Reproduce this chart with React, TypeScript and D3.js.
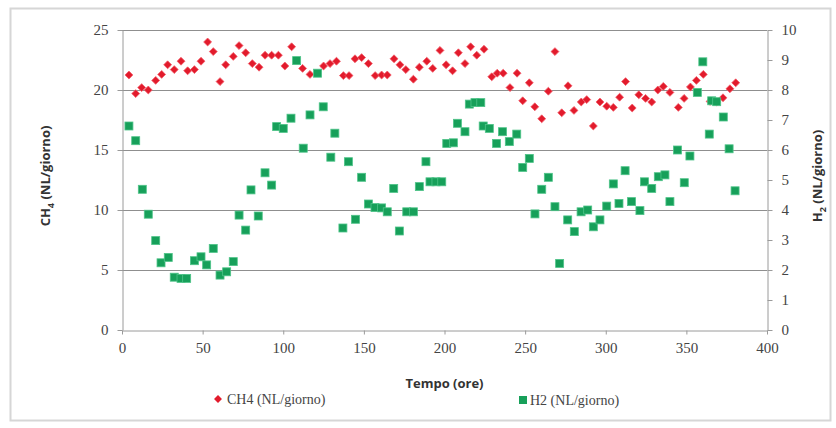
import React, { useRef, useEffect } from 'react';
import * as d3 from 'd3';

// Tempo (ore) and CH4 (NL/giorno)
const ch4Time = [
  4.3, 8.5, 12.2, 16.3, 20.9, 24.6, 28.3, 32.4, 36.6, 40.7, 44.9, 49, 53.1, 56.6, 60.8, 64.3, 69, 72.6, 76.7,
  80.8, 85, 88.7, 92.8, 97, 101, 105.2, 112, 116.6, 125, 129, 133, 137.3, 140.8, 144.5, 148.6, 152.8, 157, 161,
  164.5, 168.7, 172.4, 176, 180.7, 184.4, 189, 192.7, 197.2, 201, 205, 208.6, 212.7, 216.2, 220, 224.5, 229.3,
  232.7, 236.4, 240.6, 245, 248.5, 252.6, 256, 260.3, 264.4, 268.5, 272.7, 276.6, 280.3, 284.8, 288.2, 292.3,
  296.4, 300.6, 304.7, 308.6, 312.3, 316.4, 320.5, 324.7, 328.5, 332.3, 335.7, 339.8, 345, 348.6, 352.5, 356.2,
  360.5, 364.7, 368.8, 372.7, 377, 380.6,
];
const ch4Values = [
  21.25, 19.7, 20.2, 20.0, 20.8, 21.3, 22.1, 21.7, 22.4, 21.6, 21.7, 22.4, 24.0, 23.2, 20.7, 22.1, 22.8, 23.7, 23.1,
  22.2, 21.9, 22.9, 22.9, 22.9, 22.0, 23.6, 21.8, 21.3, 22.0, 22.2, 22.4, 21.2, 21.2, 22.6, 22.7, 22.2, 21.2, 21.25,
  21.25, 22.6, 22.1, 21.7, 20.9, 21.9, 22.4, 21.8, 23.3, 22.1, 21.6, 23.1, 22.2, 23.6, 22.9, 23.4, 21.1,
  21.4, 21.4, 20.2, 21.4, 19.1, 20.6, 18.6, 17.6, 19.9, 23.2, 18.1, 20.35, 18.3, 19.0, 19.2, 17.0,
  19.0, 18.65, 18.55, 19.4, 20.7, 18.5, 19.6, 19.3, 19.0, 20.0, 20.3, 19.8, 18.55, 19.3, 20.25, 20.8,
  21.3, 19.05, 19.0, 19.35, 20.1, 20.6,
];

// Tempo (ore) and H2 (NL/giorno)
const h2Time = [
  4.3, 8.5, 12.6, 16.3, 20.9, 24.2, 28.7, 32.4, 36.6, 40.1, 44.9, 49, 52.5, 56.6, 60.8, 64.9, 69, 72.6, 76.7, 80,
  84.5, 88.7, 92.8, 95.9, 100, 104.8, 108.3, 112.4, 116.6, 121.3, 124.8, 129.5, 132, 137, 140.4, 144.8, 148.6,
  152.8, 156.9, 161, 164.5, 168.5, 172, 176.6, 180.7, 184.4, 188.5, 191, 194.7, 198.3, 201.4, 205.5, 208, 212.7,
  215.4, 218.9, 222.5, 224, 227.8, 232.3, 236, 240.2, 244.8, 248.5, 252.6, 256.1, 260.3, 264.4, 268.5, 271.4,
  276.4, 280.5, 284.7, 288.8, 292.3, 296.4, 300.6, 304.7, 308.2, 312, 316, 321.2, 324, 328.5, 332.6, 336.7,
  339.8, 344.5, 348.7, 352.2, 356.8, 360.2, 364.2, 365.7, 368.8, 372.9, 376.5, 380.2,
];
const h2Values = [
  6.8, 6.31, 4.69, 3.86, 2.98, 2.24, 2.42, 1.76, 1.72, 1.72, 2.31, 2.44, 2.17, 2.72, 1.83, 1.94, 2.28, 3.83, 3.33, 4.67,
  3.8, 5.24, 4.83, 6.78, 6.72, 7.06, 8.98, 6.06, 7.17, 8.56, 7.44, 5.76, 6.56, 3.4, 5.61, 3.69, 5.09,
  4.2, 4.08, 4.07, 3.94, 4.72, 3.3, 3.94, 3.94, 4.78, 5.61, 4.94, 4.94, 4.94, 6.22, 6.24, 6.89, 6.61,
  7.53, 7.58, 7.58, 6.8, 6.72, 6.22, 6.61, 6.28, 6.53, 5.42, 5.72, 3.87, 4.69, 5.09, 4.11, 2.22,
  3.67, 3.28, 3.94, 4.0, 3.44, 3.67, 4.13, 4.87, 4.22, 5.31, 4.28, 3.98, 4.94, 4.72, 5.11, 5.17,
  4.28, 6.0, 4.91, 5.8, 7.92, 8.94, 6.53, 7.64, 7.61, 7.1, 6.04, 4.64,
];

const xTicks = [0, 50, 100, 150, 200, 250, 300, 350, 400];
const leftTicks = [0, 5, 10, 15, 20, 25];
const rightTicks = [0, 1, 2, 3, 4, 5, 6, 7, 8, 9, 10];

const RED = '#e21b2c';
const GREEN = '#17a05a';
const SERIF = '"Liberation Serif", "DejaVu Serif", serif';
const SANS = '"Open Sans", "Liberation Sans", sans-serif';

const App: React.FC = () => {
  const chartRef = useRef<SVGSVGElement | null>(null);

  useEffect(() => {
    if (!chartRef.current) return;
    const W = 836;
    const H = 428;
    const left = 122;
    const right = 767;
    const top = 30;
    const bottom = 330;

    const svg = d3.select(chartRef.current);
    svg.selectAll('*').remove();
    svg.attr('width', W).attr('height', H);

    // outer frame
    svg
      .append('rect')
      .attr('x', 10.5)
      .attr('y', 8.5)
      .attr('width', 820)
      .attr('height', 412)
      .attr('fill', '#fff')
      .attr('stroke', '#d6d6d6')
      .attr('stroke-width', 2);

    const x = d3.scaleLinear().domain([0, 400]).range([left, right]);
    const yL = d3.scaleLinear().domain([0, 25]).range([bottom, top]);
    const yR = d3.scaleLinear().domain([0, 10]).range([bottom, top]);

    // gridlines
    svg
      .append('g')
      .selectAll('line')
      .data(leftTicks.filter((d) => d > 0))
      .enter()
      .append('line')
      .attr('x1', left)
      .attr('x2', right)
      .attr('y1', (d) => Math.round(yL(d)) + 0.5)
      .attr('y2', (d) => Math.round(yL(d)) + 0.5)
      .attr('stroke', '#8f8f8f')
      .attr('stroke-width', 1);

    const styleAxis = (g: d3.Selection<SVGGElement, unknown, null, undefined>) => {
      g.select('.domain').attr('stroke', '#9a9a9a');
      g.selectAll('.tick line').attr('stroke', '#9a9a9a');
      g.selectAll('.tick text')
        .attr('fill', '#444')
        .style('font-family', SERIF)
        .style('font-size', '15px');
    };

    const axisL = svg
      .append('g')
      .attr('transform', `translate(${left + 0.5},0)`)
      .call(d3.axisLeft(yL).tickValues(leftTicks).tickSize(5).tickSizeOuter(0).tickPadding(9));
    styleAxis(axisL);

    const axisR = svg
      .append('g')
      .attr('transform', `translate(${right + 0.5},0)`)
      .call(d3.axisRight(yR).tickValues(rightTicks).tickSize(5).tickSizeOuter(0).tickPadding(9));
    styleAxis(axisR);

    const axisB = svg
      .append('g')
      .attr('transform', `translate(0,${bottom + 0.5})`)
      .call(d3.axisBottom(x).tickValues(xTicks).tickSize(4).tickSizeOuter(0).tickPadding(8));
    styleAxis(axisB);

    // CH4 diamonds
    const diamond = d3.symbol().type(d3.symbolDiamond2).size(40);
    svg
      .append('g')
      .selectAll('path')
      .data(ch4Time.map((t, i) => [t, ch4Values[i]]))
      .enter()
      .append('path')
      .attr('d', diamond as any)
      .attr('transform', (d) => `translate(${x(d[0])},${yL(d[1])})`)
      .attr('fill', RED)
      .attr('stroke', '#f25c6a')
      .attr('stroke-width', 0.8);

    // H2 squares
    const sq = 8;
    svg
      .append('g')
      .selectAll('rect')
      .data(h2Time.map((t, i) => [t, h2Values[i]]))
      .enter()
      .append('rect')
      .attr('x', (d) => x(d[0]) - sq / 2)
      .attr('y', (d) => yR(d[1]) - sq / 2)
      .attr('width', sq)
      .attr('height', sq)
      .attr('fill', GREEN)
      .attr('stroke', '#4fc489')
      .attr('stroke-width', 0.8);

    // axis titles
    const titleL = svg
      .append('text')
      .attr('transform', `translate(50,176) rotate(-90)`)
      .attr('text-anchor', 'middle')
      .style('font-family', SANS)
      .style('font-size', '13px')
      .style('font-weight', 'bold')
      .attr('fill', '#333');
    titleL.append('tspan').text('CH');
    titleL.append('tspan').attr('font-size', '9px').attr('dy', 4).text('4');
    titleL.append('tspan').attr('dy', -4).text(' (NL/giorno)');

    const titleR = svg
      .append('text')
      .attr('transform', `translate(822,176) rotate(-90)`)
      .attr('text-anchor', 'middle')
      .style('font-family', SANS)
      .style('font-size', '13px')
      .style('font-weight', 'bold')
      .attr('fill', '#333');
    titleR.append('tspan').text('H');
    titleR.append('tspan').attr('font-size', '9px').attr('dy', 4).text('2');
    titleR.append('tspan').attr('dy', -4).text(' (NL/giorno)');

    svg
      .append('text')
      .attr('x', (left + right) / 2)
      .attr('y', 388)
      .attr('text-anchor', 'middle')
      .style('font-family', SANS)
      .style('font-size', '13px')
      .style('font-weight', 'bold')
      .attr('fill', '#333')
      .text('Tempo (ore)');

    // legend
    const legend = svg.append('g').style('font-family', SERIF).style('font-size', '14px').attr('fill', '#444');
    legend
      .append('path')
      .attr('d', diamond as any)
      .attr('transform', 'translate(218,399)')
      .attr('fill', RED);
    legend.append('text').attr('x', 227).attr('y', 404).text('CH4 (NL/giorno)');
    legend
      .append('rect')
      .attr('x', 519)
      .attr('y', 396)
      .attr('width', sq)
      .attr('height', sq)
      .attr('fill', GREEN);
    legend.append('text').attr('x', 530).attr('y', 405).text('H2 (NL/giorno)');
  }, []);

  return <svg ref={chartRef} style={{ position: 'absolute', left: 0, top: 0 }}></svg>;
};

export default App;
